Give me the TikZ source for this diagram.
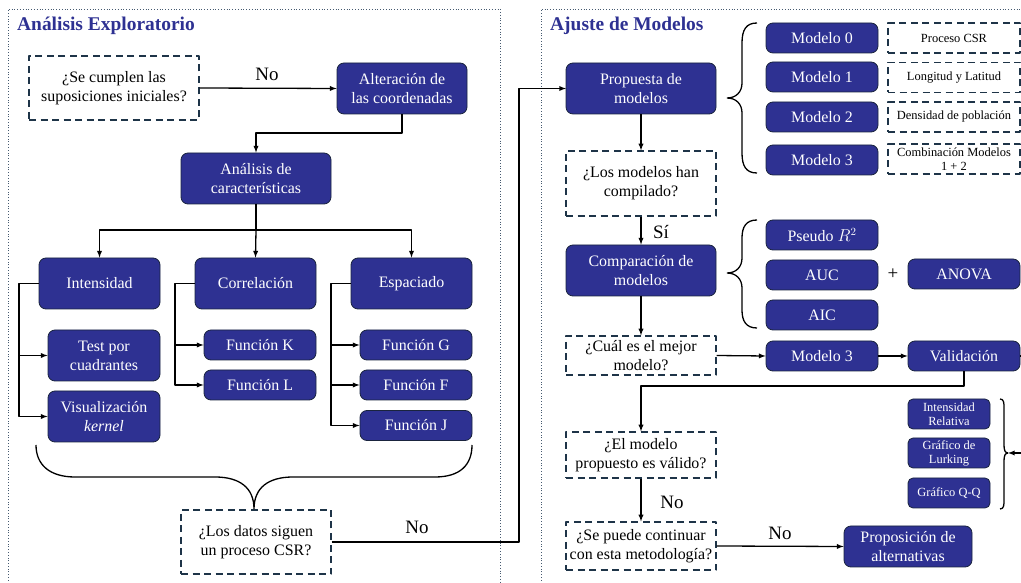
\documentclass[tikz,border=0pt]{standalone}
\usepackage{fontspec}
\setmainfont{Liberation Serif}
\definecolor{boxblue}{RGB}{46,49,146}
\definecolor{boxline}{RGB}{26,36,62}
\definecolor{qline}{RGB}{30,52,72}
\definecolor{panelline}{RGB}{70,90,112}
\begin{document}
\begin{tikzpicture}[>=latex,line join=bevel,
  every node/.style={inner sep=0pt},
  size/.style 2 args={minimum width=#1,minimum height=#2},
  stepbox/.style={draw=boxline,fill=boxblue,text=white,line width=0.8bp,rounded corners=7bp,align=center,font=\fontsize{16}{19}\selectfont},
  tinybox/.style={stepbox,rounded corners=5bp,font=\fontsize{12.5}{14}\selectfont},
  qbox/.style={draw=qline,line width=1.2bp,dash pattern=on 7bp off 4.5bp,align=center,font=\fontsize{16}{19}\selectfont},
  notebox/.style={qbox,font=\fontsize{12.5}{14}\selectfont},
  lbl/.style={font=\fontsize{19}{22}\selectfont},
  ttl/.style={anchor=west,text=boxblue,font=\bfseries\fontsize{19.5}{22}\selectfont},
  conn/.style={black,line width=1.3bp},
  panel/.style={draw=panelline,line width=0.8bp,dotted},
]
\useasboundingbox (0bp,0bp) rectangle (1021bp,583bp);
%% panels
\draw [panel] (8bp,-20bp) rectangle (500bp,574bp);
\draw [panel] (541bp,-20bp) rectangle (1040bp,574bp);
\node (ttl_0) at (17bp,557bp) [ttl] {Análisis Exploratorio};
\node (ttl_1) at (550bp,557bp) [ttl] {Ajuste de Modelos};
%% exploratory analysis
\node (q_sup) at (114bp,495bp) [qbox,size={170bp}{64bp}] {¿Se cumplen las\\suposiciones iniciales?};
\node (alt) at (402bp,494.5bp) [stepbox,size={130bp}{51bp}] {Alteración de\\las coordenadas};
\node (caract) at (256bp,404.5bp) [stepbox,size={150bp}{51bp}] {Análisis de\\características};
\node (int) at (99.5bp,299.5bp) [stepbox,size={121bp}{51bp}] {Intensidad};
\node (corr) at (255.5bp,299.5bp) [stepbox,size={121bp}{51bp}] {Correlación};
\node (esp) at (411.5bp,299.5bp) [stepbox,size={121bp}{51bp}] {Espaciado};
\node (test) at (104bp,227.5bp) [stepbox,size={112bp}{51bp}] {Test por\\cuadrantes};
\node (vis) at (104bp,166.5bp) [stepbox,size={112bp}{51bp}] {Visualización\\\textit{kernel}};
\node (fun_k) at (260bp,238bp) [stepbox,size={112bp}{30bp}] {Función K};
\node (fun_l) at (260bp,198bp) [stepbox,size={112bp}{30bp}] {Función L};
\node (fun_g) at (416bp,238bp) [stepbox,size={112bp}{30bp}] {Función G};
\node (fun_f) at (416bp,198bp) [stepbox,size={112bp}{30bp}] {Función F};
\node (fun_j) at (416bp,157.5bp) [stepbox,size={112bp}{30bp}] {Función J};
\node (q_csr) at (256bp,41bp) [qbox,size={150bp}{64bp}] {¿Los datos siguen\\un proceso CSR?};
\node (no_0) at (267bp,509bp) [lbl] {No};
\node (no_1) at (417bp,56bp) [lbl] {No};
%
\draw [conn,->] (q_sup.east) -- (alt.west);
\draw [conn,->] (alt.south) |- (256bp,450bp) -- (caract.north);
\draw [conn] (caract.south) -- (256bp,353bp);
\draw [conn,->] (256bp,353bp) -| (int.north);
\draw [conn,->] (256bp,353bp) -- (corr.north);
\draw [conn,->] (256bp,353bp) -| (esp.north);
\draw [conn,->] (int.west) -- (19bp,299.5bp) |- (vis.west);
\draw [conn,->] (19bp,227.5bp) -- (test.west);
\draw [conn,->] (corr.west) -- (175bp,299.5bp) |- (fun_l.west);
\draw [conn,->] (175bp,238bp) -- (fun_k.west);
\draw [conn,->] (esp.west) -- (331bp,299.5bp) |- (fun_j.west);
\draw [conn,->] (331bp,238bp) -- (fun_g.west);
\draw [conn,->] (331bp,198bp) -- (fun_f.west);
% brace
\draw [conn] (36bp,138bp) .. controls (36bp,118bp) and (50bp,106bp) .. (75bp,106bp) -- (215bp,106bp)
  .. controls (240bp,106bp) and (254bp,95bp) .. (254bp,74bp)
  .. controls (254bp,95bp) and (268bp,106bp) .. (293bp,106bp) -- (435bp,106bp)
  .. controls (460bp,106bp) and (472bp,118bp) .. (472bp,138bp);
\draw [conn,->] (q_csr.east) -- (519bp,41bp) |- (566bp,494.5bp);
%% model fitting
\node (prop) at (641bp,494.5bp) [stepbox,size={150bp}{51bp}] {Propuesta de\\modelos};
\node (mod_0) at (822bp,545bp) [stepbox,size={112bp}{30bp}] {Modelo 0};
\node (mod_1) at (822bp,506bp) [stepbox,size={112bp}{30bp}] {Modelo 1};
\node (mod_2) at (822bp,466bp) [stepbox,size={112bp}{30bp}] {Modelo 2};
\node (mod_3) at (822bp,423bp) [stepbox,size={112bp}{30bp}] {Modelo 3};
\node (note_0) at (954bp,545bp) [notebox,size={132bp}{30bp}] {Proceso CSR};
\node (note_1) at (954bp,505.5bp) [notebox,size={132bp}{30bp}] {Longitud y Latitud};
\node (note_2) at (954bp,466bp) [notebox,size={132bp}{30bp}] {Densidad de población};
\node (note_3) at (954bp,424bp) [notebox,size={132bp}{30bp}] {Combinación Modelos\\1 + 2};
\node (q_comp) at (641bp,399.5bp) [qbox,size={150bp}{65bp}] {¿Los modelos han\\compilado?};
\node (si) at (661bp,351bp) [lbl] {Sí};
\node (comp) at (641bp,312.5bp) [stepbox,size={150bp}{51bp}] {Comparación de\\modelos};
\node (pr2) at (822bp,348bp) [stepbox,size={112bp}{30bp}] {Pseudo $R^2$};
\node (auc) at (822bp,308bp) [stepbox,size={112bp}{30bp}] {AUC};
\node (aic) at (822bp,268bp) [stepbox,size={112bp}{30bp}] {AIC};
\node (plus) at (893bp,309bp) [lbl] {+};
\node (anova) at (964bp,309bp) [stepbox,size={112bp}{30bp}] {ANOVA};
\node (q_best) at (641bp,227.5bp) [qbox,size={150bp}{39bp}] {¿Cuál es el mejor\\modelo?};
\node (best) at (822bp,227bp) [stepbox,size={112bp}{30bp}] {Modelo 3};
\node (val) at (964bp,227bp) [stepbox,size={112bp}{30bp}] {Validación};
\node (v_int) at (949bp,169bp) [tinybox,size={82bp}{30bp}] {Intensidad\\Relativa};
\node (v_lurk) at (949bp,130bp) [tinybox,size={82bp}{30bp}] {Gráfico de\\Lurking};
\node (v_qq) at (949bp,90bp) [tinybox,size={82bp}{30bp}] {Gráfico Q-Q};
\node (q_valid) at (641bp,128bp) [qbox,size={150bp}{46bp}] {¿El modelo\\propuesto es válido?};
\node (q_cont) at (641bp,37bp) [qbox,size={150bp}{48bp}] {¿Se puede continuar\\con esta metodología?};
\node (altern) at (908bp,36.5bp) [stepbox,size={128bp}{41bp}] {Proposición de\\alternativas};
\node (no_2) at (672bp,81bp) [lbl] {No};
\node (no_3) at (780bp,50bp) [lbl] {No};
\coordinate (brtip) at (1008bp,130bp);
%
\draw [conn] (757bp,560bp) .. controls (746bp,560bp) and (742bp,553bp) .. (742bp,540bp) -- (742bp,500bp)
  .. controls (742bp,491bp) and (736bp,485bp) .. (727bp,485bp)
  .. controls (736bp,485bp) and (742bp,479bp) .. (742bp,470bp) -- (742bp,430bp)
  .. controls (742bp,417bp) and (746bp,410bp) .. (757bp,410bp);
\draw [conn] (757bp,363bp) .. controls (746bp,363bp) and (742bp,356bp) .. (742bp,345bp) -- (742bp,325bp)
  .. controls (742bp,316bp) and (736bp,310bp) .. (727bp,310bp)
  .. controls (736bp,310bp) and (742bp,304bp) .. (742bp,295bp) -- (742bp,273bp)
  .. controls (742bp,262bp) and (746bp,255bp) .. (757bp,255bp);
\draw [conn] (1000bp,184bp) .. controls (1004bp,184bp) and (1004bp,180bp) .. (1004bp,175bp) -- (1004bp,138bp)
  .. controls (1004bp,133bp) and (1005bp,130bp) .. (brtip)
  .. controls (1005bp,130bp) and (1004bp,127bp) .. (1004bp,122bp) -- (1004bp,83bp)
  .. controls (1004bp,78bp) and (1004bp,74bp) .. (1000bp,74bp);
\draw [conn,->] (prop.south) -- (q_comp.north);
\draw [conn,->] (q_comp.south) -- (comp.north);
\draw [conn,->] (comp.south) -- (q_best.north);
\draw [conn,->] (q_best.east) -- (best.west);
\draw [conn,->] (best.east) -- (val.west);
\draw [conn,->] (val.east) -- (1035bp,227bp) |- (brtip);
\draw [conn,->] (val.south) |- (641bp,197bp) -- (q_valid.north);
\draw [conn,->] (q_valid.south) -- (q_cont.north);
\draw [conn,->] (q_cont.east) -- (altern.west);
%
\end{tikzpicture}
\end{document}
